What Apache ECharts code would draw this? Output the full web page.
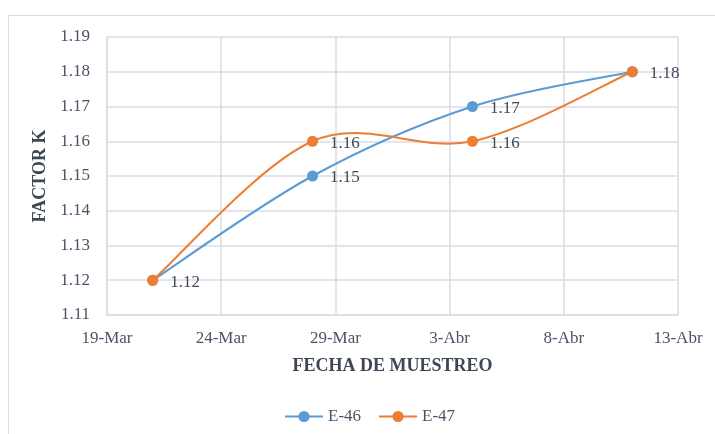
<!DOCTYPE html>
<html>
<head>
<meta charset="utf-8">
<script src="https://cdn.jsdelivr.net/npm/echarts@6/dist/echarts.min.js"></script>
<style>
  html, body { margin: 0; padding: 0; background: #fff; }
  #chart { width: 715px; height: 434px; }
</style>
</head>
<body>
<div id="chart"></div>
<script>
// Sampling dates and measured K factor for each station
const sampleDates = ['2019-03-21', '2019-03-28', '2019-04-04', '2019-04-11'];
const e46Values = [1.12, 1.15, 1.17, 1.18];
const e47Values = [1.12, 1.16, 1.16, 1.18];
const xTickLabels = ['19-Mar', '24-Mar', '29-Mar', '3-Abr', '8-Abr', '13-Abr'];
const yTicks = [1.11, 1.12, 1.13, 1.14, 1.15, 1.16, 1.17, 1.18, 1.19];

const DAY = 86400000;
const origin = Date.UTC(2019, 2, 19);
const dayOffset = s => (Date.parse(s + 'T00:00:00Z') - origin) / DAY;
const xDays = sampleDates.map(dayOffset);

const serif = '"Liberation Serif", "DejaVu Serif", serif';
const tickColor = '#4a5466';
const titleColor = '#3d4757';
const gridColor = '#dadde4';
const blue = '#5b9bd5';
const orange = '#ed7d31';

const pairs = vals => xDays.map((d, i) => [d, vals[i]]);

// Smooth curve through the points (cardinal spline, 1/6 tangent factor),
// mapped to pixels through the chart's own axes.
function splineRenderer(values, color) {
  return function (params, api) {
    const pts = xDays.map((d, i) => api.coord([d, values[i]]));
    const n = pts.length;
    let path = 'M' + pts[0][0] + ',' + pts[0][1];
    for (let i = 0; i < n - 1; i++) {
      const p0 = pts[Math.max(i - 1, 0)];
      const p1 = pts[i];
      const p2 = pts[i + 1];
      const p3 = pts[Math.min(i + 2, n - 1)];
      const c1 = [p1[0] + (p2[0] - p0[0]) / 6, p1[1] + (p2[1] - p0[1]) / 6];
      const c2 = [p2[0] - (p3[0] - p1[0]) / 6, p2[1] - (p3[1] - p1[1]) / 6];
      path += ' C' + c1[0] + ',' + c1[1] + ' ' + c2[0] + ',' + c2[1] + ' ' + p2[0] + ',' + p2[1];
    }
    return {
      type: 'path',
      shape: { pathData: path },
      style: { fill: 'none', stroke: color, lineWidth: 2 }
    };
  };
}

function labelCfg(hideIndex) {
  return {
    show: true,
    position: 'right',
    distance: 12,
    offset: [0, 2],
    fontFamily: serif,
    fontSize: 17,
    color: '#404856',
    formatter: p => (p.dataIndex === hideIndex ? '' : p.value[1].toFixed(2))
  };
}

const legendText = {
  fontFamily: serif,
  fontSize: 17,
  color: tickColor,
  rich: { s: { fontFamily: serif, fontSize: 17, color: tickColor } }
};

const chart = echarts.init(document.getElementById('chart'));
chart.setOption({
  animation: false,
  backgroundColor: '#fff',
  graphic: [{
    type: 'rect',
    shape: { x: 8.5, y: 15.5, width: 740, height: 440 },
    style: { fill: 'none', stroke: '#d9dce2', lineWidth: 1 },
    silent: true
  }],
  grid: { left: 107, right: 37, top: 37, bottom: 119 },
  legend: {
    left: 279,
    top: 403,
    itemWidth: 38,
    itemHeight: 14,
    itemGap: 17,
    textStyle: legendText,
    formatter: name => '{s|' + name + '}',
    data: [
      { name: 'E-46', lineStyle: { color: blue, width: 2, opacity: 1 } },
      { name: 'E-47', lineStyle: { color: orange, width: 2, opacity: 1 } }
    ]
  },
  xAxis: {
    type: 'value',
    min: 0,
    max: 25,
    interval: 5,
    name: 'FECHA DE MUESTREO',
    nameLocation: 'middle',
    nameGap: 42,
    nameTextStyle: { fontFamily: serif, fontSize: 18, fontWeight: 'bold', color: titleColor },
    axisLine: { show: true, lineStyle: { color: gridColor, width: 1.5 } },
    axisTick: { show: false },
    splitLine: { show: true, lineStyle: { color: gridColor, width: 1.5 } },
    axisLabel: {
      margin: 15,
      fontFamily: serif,
      fontSize: 17,
      color: tickColor,
      formatter: v => xTickLabels[Math.round(v / 5)]
    }
  },
  yAxis: {
    type: 'value',
    min: yTicks[0],
    max: yTicks[yTicks.length - 1],
    interval: 0.01,
    name: 'FACTOR K',
    nameLocation: 'middle',
    nameGap: 53,
    nameRotate: 90,
    nameTextStyle: { fontFamily: serif, fontSize: 18, fontWeight: 'bold', color: titleColor },
    axisLine: { show: true, lineStyle: { color: gridColor, width: 1.5 } },
    axisTick: { show: false },
    splitLine: { show: true, lineStyle: { color: gridColor, width: 1.5 } },
    axisLabel: {
      margin: 17,
      fontFamily: serif,
      fontSize: 17,
      color: tickColor,
      formatter: v => v.toFixed(2)
    }
  },
  series: [
    {
      type: 'custom',
      renderItem: splineRenderer(e46Values, blue),
      data: [[xDays[0], e46Values[0]]],
      silent: true,
      z: 1
    },
    {
      type: 'custom',
      renderItem: splineRenderer(e47Values, orange),
      data: [[xDays[0], e47Values[0]]],
      silent: true,
      z: 3
    },
    {
      name: 'E-46',
      type: 'line',
      data: pairs(e46Values),
      symbol: 'circle',
      symbolSize: 11,
      itemStyle: { color: blue },
      lineStyle: { color: blue, width: 2, opacity: 0 },
      label: labelCfg(3),
      z: 2
    },
    {
      name: 'E-47',
      type: 'line',
      data: pairs(e47Values),
      symbol: 'circle',
      symbolSize: 11,
      itemStyle: { color: orange },
      lineStyle: { color: orange, width: 2, opacity: 0 },
      label: labelCfg(0),
      z: 4
    }
  ]
});
</script>
</body>
</html>
